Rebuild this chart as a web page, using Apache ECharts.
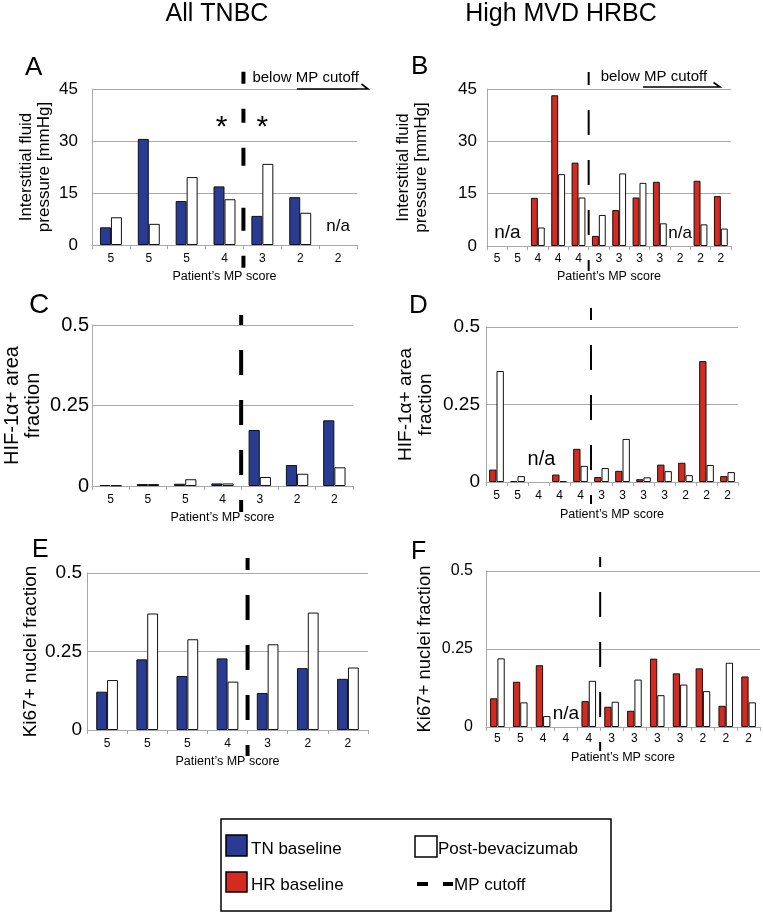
<!DOCTYPE html>
<html>
<head>
<meta charset="utf-8">
<script src="https://cdn.jsdelivr.net/npm/echarts@6/dist/echarts.min.js"></script>
<style>html,body{margin:0;padding:0;background:#fff}#main{width:763px;height:914px}</style>
</head>
<body>
<div id="main"></div>
<script>
// ---------- DATA ----------
const catsTN = ['5', '5', '5', '4', '3', '2', '2'];
const catsHR = ['5', '5', '4', '4', '4', '3', '3', '3', '3', '2', '2', '2'];

// Interstitial fluid pressure [mmHg]
const ifpTN = [5.1, 30.6, 12.7, 16.9, 8.4, 13.8, null];
const ifpTNPost = [8.0, 6.1, 19.6, 13.2, 23.4, 9.3, null];
const ifpHR = [null, null, 13.8, 43.2, 23.9, 2.9, 10.3, 13.9, 18.4, null, 18.7, 14.3];
const ifpHRPost = [null, null, 5.3, 20.6, 13.9, 8.9, 20.8, 18.1, 6.5, null, 6.2, 5.0];

// HIF-1a+ area fraction
const hifTN = [0.003, 0.006, 0.007, 0.008, 0.174, 0.065, 0.204];
const hifTNPost = [0.002, 0.006, 0.021, 0.008, 0.028, 0.038, 0.058];
const hifHR = [0.040, 0.003, null, 0.024, 0.107, 0.016, 0.036, 0.009, 0.056, 0.062, 0.390, 0.019];
const hifHRPost = [0.358, 0.019, null, 0.003, 0.052, 0.045, 0.139, 0.015, 0.035, 0.022, 0.055, 0.032];

// Ki67+ nuclei fraction
const kiTN = [0.122, 0.225, 0.172, 0.228, 0.118, 0.197, 0.163];
const kiTNPost = [0.159, 0.371, 0.289, 0.154, 0.273, 0.374, 0.199];
const kiHR = [0.092, 0.145, 0.198, null, 0.083, 0.065, 0.052, 0.219, 0.172, 0.188, 0.068, 0.162];
const kiHRPost = [0.220, 0.079, 0.035, null, 0.148, 0.081, 0.152, 0.102, 0.136, 0.115, 0.206, 0.079];

const ifpTicks = [0, 45, 15];
const fracTicks = [0, 0.5, 0.25];

// ---------- STYLE ----------
const FONT = "'Liberation Sans', Arial, Helvetica, sans-serif";
const BLUE = '#293b93', RED = '#d42a1f', WHITE = '#ffffff';
const GRIDC = '#a8a8a8';
const xName = 'Patient\u2019s MP score';

const panels = [
  {grid:{left:92, top:89, width:265, height:156}, cats:catsTN, base:ifpTN, post:ifpTNPost, baseName:'TN baseline', color:BLUE, ticks:ifpTicks,
   yName:'Interstitial fluid\npressure [mmHg]', yNameSize:17, yNameLH:18, yNameGap:39, yLabSize:17, yLabMargin:14, xLabMargin:8, xNameGap:25, bw:'29%', cut:3},
  {grid:{left:487, top:89, width:244, height:157}, cats:catsHR, base:ifpHR, post:ifpHRPost, baseName:'HR baseline', color:RED, ticks:ifpTicks,
   yName:'Interstitial fluid\npressure [mmHg]', yNameSize:17, yNameLH:18, yNameGap:57, yLabSize:17, yLabMargin:10, xLabMargin:7, xNameGap:24, bw:'34%', cut:4},
  {grid:{left:92, top:325, width:261, height:161}, cats:catsTN, base:hifTN, post:hifTNPost, baseName:'TN baseline', color:BLUE, ticks:fracTicks,
   yName:'HIF-1\u03b1+ area\nfraction', yNameSize:20, yNameLH:21, yNameGap:48, yLabSize:20, yLabMargin:3, xLabMargin:8, xNameGap:25, bw:'30%', cut:3},
  {grid:{left:486, top:327, width:252, height:155}, cats:catsHR, base:hifHR, post:hifHRPost, baseName:'HR baseline', color:RED, ticks:fracTicks,
   yName:'HIF-1\u03b1+ area\nfraction', yNameSize:19, yNameLH:20, yNameGap:50, yLabSize:19, yLabMargin:6, xLabMargin:8, xNameGap:26, bw:'35%', cut:4},
  {grid:{left:87, top:573, width:281, height:157}, cats:catsTN, base:kiTN, post:kiTNPost, baseName:'TN baseline', color:BLUE, ticks:fracTicks,
   yName:'Ki67+ nuclei fraction', yNameSize:19, yNameLH:20, yNameGap:43, yLabSize:19, yLabMargin:5, xLabMargin:8, xNameGap:25, bw:'27%', cut:3},
  {grid:{left:486, top:571, width:274, height:156}, cats:catsHR, base:kiHR, post:kiHRPost, baseName:'HR baseline', color:RED, ticks:fracTicks,
   yName:'Ki67+ nuclei fraction', yNameSize:18.5, yNameLH:19, yNameGap:52, yLabSize:16, yLabMargin:13, xLabMargin:6, xNameGap:24, bw:'32%', cut:4}
];

const chart = echarts.init(document.getElementById('main'), null, {renderer:'canvas'});

const grids = [], xAxes = [], yAxes = [], series = [];
panels.forEach((p, i) => {
  grids.push(Object.assign({containLabel:false, outerBoundsMode:'none'}, p.grid));
  xAxes.push({
    type:'category', gridIndex:i, data:p.cats,
    axisLine:{show:true, lineStyle:{color:GRIDC, width:1}},
    axisTick:{show:true, interval:0, length:4, lineStyle:{color:GRIDC}},
    axisLabel:{interval:0, fontSize:12, color:'#000', margin:p.xLabMargin, fontFamily:FONT},
    splitLine:{show:false},
    name:xName, nameLocation:'middle', nameGap:p.xNameGap,
    nameTextStyle:{fontSize:12.5, color:'#000', fontFamily:FONT}
  });
  yAxes.push({
    type:'value', gridIndex:i, min:p.ticks[0], max:p.ticks[1], interval:p.ticks[2],
    axisLine:{show:true, lineStyle:{color:GRIDC, width:1}},
    axisTick:{show:false},
    axisLabel:{fontSize:p.yLabSize, color:'#000', margin:p.yLabMargin, fontFamily:FONT},
    splitLine:{show:true, lineStyle:{color:GRIDC, width:1}},
    name:p.yName, nameLocation:'middle', nameRotate:90, nameGap:p.yNameGap,
    nameTextStyle:{fontSize:p.yNameSize, lineHeight:p.yNameLH, color:'#000', fontFamily:FONT, align:'center'}
  });
  series.push({
    type:'bar', name:p.baseName, xAxisIndex:i, yAxisIndex:i, data:p.base,
    barWidth:p.bw, barGap:'0%',
    itemStyle:{color:p.color, borderColor:'#111', borderWidth:1},
    silent:true, animation:false
  });
  series.push({
    type:'bar', name:'Post-bevacizumab', xAxisIndex:i, yAxisIndex:i, data:p.post,
    barWidth:p.bw, barGap:'0%',
    itemStyle:{color:WHITE, borderColor:'#111', borderWidth:1},
    silent:true, animation:false
  });
});

chart.setOption({
  animation:false,
  backgroundColor:'#fff',
  textStyle:{fontFamily:FONT},
  grid:grids, xAxis:xAxes, yAxis:yAxes, series:series
});

// ---------- ANNOTATIONS (positions from the chart's scales) ----------
function px(i, idx, val) { return chart.convertToPixel({gridIndex:i}, [idx, val]); }
function cutX(i) { const c = panels[i].cut; return (px(i, c, 0)[0] + px(i, c + 1, 0)[0]) / 2; }

const g = [];
function text(x, y, s, size, align, vAlign) {
  g.push({type:'text', x:x, y:y, silent:true, style:{text:s, fontSize:size, fontFamily:FONT, fill:'#000',
    textAlign:align || 'left', textVerticalAlign:vAlign || 'middle'}});
}
function dashLine(x, y1, y2, w, dash, offset) {
  g.push({type:'line', silent:true, shape:{x1:x, y1:y1, x2:x, y2:y2},
    style:{stroke:'#000', lineWidth:w, lineDash:dash, lineDashOffset:offset || 0}});
}

// column titles
text(217, 14, 'All TNBC', 25, 'center');
text(561, 14, 'High MVD HRBC', 25, 'center');
// panel letters
text(25, 68, 'A', 26); text(411, 67, 'B', 26);
text(29, 305, 'C', 28); text(409, 306, 'D', 26);
text(32, 550, 'E', 25); text(411, 552, 'F', 25);

// cutoff lines
dashLine(cutX(0), 71.7, 267.7, 4, [12, 25, 14, 25, 18, 42, 23, 25, 12]);
dashLine(cutX(1), 72, 271, 2, [25, 25], 12);
dashLine(cutX(2), 315, 512, 4, [25, 25], 15);
dashLine(cutX(3), 308, 504, 2, [25, 25], 13);
dashLine(cutX(4), 558, 756, 4, [25, 25], 13);
dashLine(cutX(5), 557, 751, 2, [25, 25], 15);

// "below MP cutoff" notes
text(cutX(0) + 9, 78, 'below MP cutoff', 15);
g.push({type:'polyline', silent:true, shape:{points:[[297, 89], [368, 89], [361.5, 84]]}, style:{stroke:'#000', lineWidth:1.6, fill:null}});
text(cutX(1) + 12, 77, 'below MP cutoff', 15);
g.push({type:'polyline', silent:true, shape:{points:[[643, 87], [720, 87], [713.5, 82.5]]}, style:{stroke:'#000', lineWidth:1.6, fill:null}});

// asterisks in A
let a1 = px(0, 3, 36), a2 = px(0, 4, 36);
text(a1[0] - 3, a1[1] + 8, '*', 30, 'center');
text(a2[0], a2[1] + 8, '*', 30, 'center');

// n/a labels
let q;
q = px(0, 6, 5.3); text(q[0], q[1], 'n/a', 17, 'center');
q = px(1, 0, 3.7); text((q[0] + px(1, 1, 0)[0]) / 2, q[1], 'n/a', 19, 'center');
q = px(1, 9, 3.7); text(q[0], q[1], 'n/a', 17, 'center');
q = px(3, 2, 0.072); text(q[0] + 3, q[1], 'n/a', 20, 'center');
q = px(5, 3, 0.042); text(q[0], q[1], 'n/a', 19, 'center');

// legend box
g.push({type:'rect', silent:true, shape:{x:221, y:819, width:390, height:92}, style:{fill:null, stroke:'#000', lineWidth:1.5}});
g.push({type:'rect', silent:true, shape:{x:226, y:835, width:21, height:21}, style:{fill:BLUE, stroke:'#000', lineWidth:1.5}});
text(251, 849, 'TN baseline', 17);
g.push({type:'rect', silent:true, shape:{x:226, y:872, width:21, height:20}, style:{fill:RED, stroke:'#000', lineWidth:1.5}});
text(251, 885, 'HR baseline', 17);
g.push({type:'rect', silent:true, shape:{x:415, y:836, width:22, height:21}, style:{fill:'#fff', stroke:'#000', lineWidth:1.5}});
text(438, 849, 'Post-bevacizumab', 17);
g.push({type:'rect', silent:true, shape:{x:417, y:882, width:11, height:4}, style:{fill:'#000'}});
g.push({type:'rect', silent:true, shape:{x:443, y:882, width:10, height:4}, style:{fill:'#000'}});
text(454, 885, 'MP cutoff', 17);

chart.setOption({graphic:g});
</script>
</body>
</html>
